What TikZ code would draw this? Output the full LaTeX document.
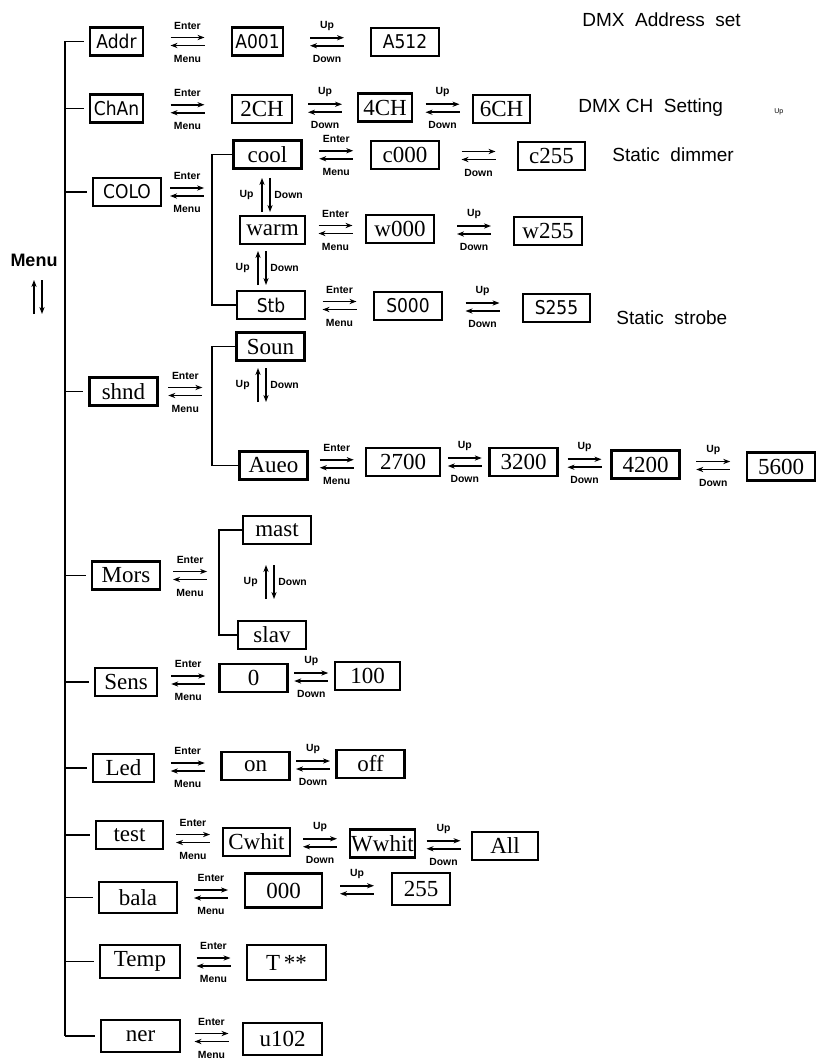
\documentclass[tikz,border=0pt]{standalone}
\usepackage{fontspec}
\setmainfont{Liberation Serif}
\setsansfont{Liberation Sans}
\newfontfamily\lcdfont{DejaVu Sans Condensed}
\usepackage{tikz}
\usetikzlibrary{arrows.meta}

\newcommand{\hpair}[5]{%
  \path (#2) -- (#3) coordinate [midway] (#1);
  \draw [keyarrow, ->] ([xshift=-8.5pt, yshift=2pt]#1) -- ([xshift=8.5pt, yshift=2pt]#1);
  \draw [keyarrow, <-] ([xshift=-8.5pt, yshift=-2pt]#1) -- ([xshift=8.5pt, yshift=-2pt]#1);
  \node [keylabel] (#1-t) at ([yshift=8pt]#1) {#4};
  \node [keylabel] (#1-b) at ([yshift=-8.5pt]#1) {#5};
}
\newcommand{\vpair}[4]{%
  \coordinate (#1) at #2;
  \draw [keyarrow, ->] ([xshift=-2pt, yshift=-8.5pt]#1) -- ([xshift=-2pt, yshift=8.5pt]#1);
  \draw [keyarrow, ->] ([xshift=2pt, yshift=8.5pt]#1) -- ([xshift=2pt, yshift=-8.5pt]#1);
  \node [keylabel, anchor=east] (#1-u) at ([xshift=-6pt]#1) {#3};
  \node [keylabel, anchor=west] (#1-d) at ([xshift=4pt]#1) {#4};
}

\begin{document}
\begin{tikzpicture}[
        x=0.5pt, y={(0pt,-0.5pt)},
        >={Stealth[length=3.5pt,width=2.6pt]},
        screen/.style={draw=black, line width=1.1pt, minimum height=14pt, minimum width=34pt, inner sep=0pt, font=\fontsize{11.5}{12}\selectfont},
        lcdscreen/.style={screen, font=\lcdfont\fontsize{9.5}{10}\selectfont},
        keylabel/.style={inner sep=0pt, font=\sffamily\bfseries\fontsize{5.2}{6}\selectfont},
        keyarrow/.style={line width=0.8pt},
        caption/.style={anchor=west, inner sep=0pt, font=\sffamily\fontsize{9.5}{11}\selectfont},
        tree/.style={line width=0.9pt},
        bracket/.style={line width=0.6pt}
    ]
    \useasboundingbox (0,0) rectangle (816,1064);

    \node [lcdscreen, minimum width=26.5pt] (Addr) at (116.5,41.5) {Addr};
    \node [lcdscreen, minimum width=25.5pt] (A001) at (257.5,41.5) {A001};
    \node [lcdscreen] (A512) at (405,42) {A512};

    \node [lcdscreen, minimum width=26.5pt] (ChAn) at (116.5,108.5) {ChAn};
    \node [screen, minimum width=30pt] (CH2) at (262,109) {2CH};
    \node [screen, minimum width=27pt] (CH4) at (385,107.5) {4CH};
    \node [screen, minimum width=28.5pt] (CH6) at (501.5,109) {6CH};

    \node [lcdscreen] (COLO) at (127,192) {COLO};
    \node [screen] (cool) at (267.5,154.5) {cool};
    \node [screen] (c000) at (405,155) {c000};
    \node [screen, minimum width=33.5pt] (c255) at (551.5,156) {c255};
    \node [screen, minimum width=32.5pt] (warm) at (272.5,230) {warm};
    \node [screen] (w000) at (400,229) {w000};
    \node [screen] (w255) at (548,231) {w255};
    \node [lcdscreen] (Stb) at (271,305) {Stb};
    \node [lcdscreen] (S000) at (408,306) {S000};
    \node [lcdscreen, minimum width=33.5pt] (S255) at (556.5,308) {S255};

    \node [screen] (shnd) at (123.5,391.5) {shnd};
    \node [screen] (Soun) at (270.5,346.5) {Soun};
    \node [screen] (Aueo) at (273.5,465.5) {Aueo};
    \node [screen, minimum width=37pt] (K2700) at (403,462) {2700};
    \node [screen] (K3200) at (523.5,462) {3200};
    \node [screen] (K4200) at (645.5,464.5) {4200};
    \node [screen] (K5600) at (781,466.5) {5600};

    \node [screen] (Mors) at (126,575.5) {Mors};
    \node [screen] (mast) at (277,530) {mast};
    \node [screen] (slav) at (272,635) {slav};

    \node [screen, minimum width=31pt] (Sens) at (126,682) {Sens};
    \node [screen] (S0) at (253.5,678) {0};
    \node [screen, minimum width=32.5pt] (S100) at (367.5,676) {100};

    \node [screen, minimum width=30.5pt] (Led) at (123.5,768) {Led};
    \node [screen] (on) at (255.5,766) {on};
    \node [screen] (off) at (370.5,764) {off};

    \node [screen, minimum width=33.5pt] (test) at (129.5,835) {test};
    \node [screen, minimum width=33.5pt] (Cwhit) at (256.5,842) {Cwhit};
    \node [screen, minimum width=32.5pt] (Wwhit) at (382.5,843.5) {Wwhit};
    \node [screen, minimum width=33pt] (All) at (505,846) {All};

    \node [screen, minimum width=39pt, minimum height=15.5pt] (bala) at (138,897.5) {bala};
    \node [screen, minimum width=38.5pt, minimum height=17pt] (B000) at (283.5,890.5) {000};
    \node [screen, minimum width=29pt, minimum height=16pt] (B255) at (421,889) {255};

    \node [screen, minimum width=40pt, minimum height=16.5pt] (Temp) at (140,961.5) {Temp};
    \node [screen, minimum width=39.5pt, minimum height=17.5pt] (Tval) at (286.5,962.5) {T\,**};

    \node [screen, minimum width=39.5pt, minimum height=16pt] (ner) at (140.5,1036) {ner};
    \node [screen, minimum width=39.5pt, minimum height=16pt] (u102) at (282.5,1039) {u102};

    \node [caption] (capAddr) at (582,20) {DMX\ \ Address\ \ set};
    \node [caption] (capCH) at (578,108) {DMX CH\ \ Setting};
    \node [anchor=west, inner sep=0pt, font=\sffamily\fontsize{3.5}{4}\selectfont] (capUp) at (774,112) {Up};
    \node [caption] (capDim) at (612,155) {Static\ \ dimmer};
    \node [caption] (capStr) at (616,318) {Static\ \ strobe};
    \node [inner sep=0pt, font=\sffamily\bfseries\fontsize{9}{10}\selectfont] (menu) at (34,260) {Menu};

    \coordinate (trunk) at (65,41);
    \coordinate (coloBr) at (212,192);
    \coordinate (shndBr) at (212,391.5);
    \coordinate (morsBr) at (219,575.5);

    \draw [tree] (Addr.west -| trunk) -- (ner.west -| trunk);
    \foreach \n in {Addr,ChAn,COLO,shnd,Mors,Sens,Led,test,bala,Temp,ner}
        \draw [tree] (\n.west -| trunk) -- ([xshift=-2.5pt]\n.west);

    \draw [bracket] (cool.west) -- (cool.west -| coloBr) -- (Stb.west -| coloBr) -- (Stb.west);
    \draw [bracket] (Soun.west) -- (Soun.west -| shndBr) -- (Aueo.west -| shndBr) -- (Aueo.west);
    \draw [bracket] (mast.west) -- (mast.west -| morsBr) -- (slav.west -| morsBr) -- (slav.west);

    \hpair{p1}{Addr.east}{A001.west}{Enter}{Menu}
    \hpair{p2}{A001.east}{A512.west}{Up}{Down}
    \hpair{p3}{ChAn.east}{CH2.west}{Enter}{Menu}
    \hpair{p4}{CH2.east}{CH4.west}{Up}{Down}
    \hpair{p5}{CH4.east}{CH6.west}{Up}{Down}
    \hpair{p6}{COLO.east}{coloBr}{Enter}{Menu}
    \hpair{p7}{cool.east}{c000.west}{Enter}{Menu}
    \hpair{p8}{c000.east}{c255.west}{}{Down}
    \hpair{p9}{warm.east}{w000.west}{Enter}{Menu}
    \hpair{p10}{w000.east}{w255.west}{Up}{Down}
    \hpair{p11}{Stb.east}{S000.west}{Enter}{Menu}
    \hpair{p12}{S000.east}{S255.west}{Up}{Down}
    \hpair{p13}{shnd.east}{shndBr}{Enter}{Menu}
    \hpair{p14}{Aueo.east}{K2700.west}{Enter}{Menu}
    \hpair{p15}{K2700.east}{K3200.west}{Up}{Down}
    \hpair{p16}{K3200.east}{K4200.west}{Up}{Down}
    \hpair{p17}{K4200.east}{K5600.west}{Up}{Down}
    \hpair{p18}{Mors.east}{morsBr}{Enter}{Menu}
    \hpair{p19}{Sens.east}{S0.west}{Enter}{Menu}
    \hpair{p20}{S0.east}{S100.west}{Up}{Down}
    \hpair{p21}{Led.east}{on.west}{Enter}{Menu}
    \hpair{p22}{on.east}{off.west}{Up}{Down}
    \hpair{p23}{test.east}{Cwhit.west}{Enter}{Menu}
    \hpair{p24}{Cwhit.east}{Wwhit.west}{Up}{Down}
    \hpair{p25}{Wwhit.east}{All.west}{Up}{Down}
    \hpair{p26}{bala.east}{B000.west}{Enter}{Menu}
    \hpair{p27}{B000.east}{B255.west}{Up}{}
    \hpair{p28}{Temp.east}{Tval.west}{Enter}{Menu}
    \hpair{p29}{ner.east}{u102.west}{Enter}{Menu}

    \vpair{v1}{(266,195)}{Up}{Down}
    \vpair{v2}{(262,268)}{Up}{Down}
    \vpair{v3}{(262,385)}{Up}{Down}
    \vpair{v4}{(270,582)}{Up}{Down}
    \vpair{v5}{(38,297)}{}{}

\end{tikzpicture}
\end{document}
